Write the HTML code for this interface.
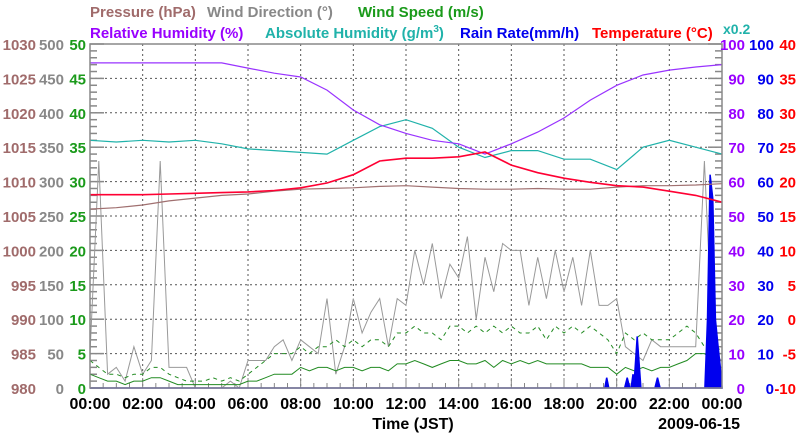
<!DOCTYPE html>
<html><head><meta charset="utf-8"><style>
body{margin:0;background:#fff;}
svg{display:block;font-family:"Liberation Sans",sans-serif;}
</style></head><body>
<svg id="c" width="800" height="434"></svg>
<script>
const hours = [0,2,4,6,8,10,12,14,16,18,20,22,24];
const xTickLabels = ["00:00","02:00","04:00","06:00","08:00","10:00","12:00","14:00","16:00","18:00","20:00","22:00","00:00"];
const pressureTicks = [980,985,990,995,1000,1005,1010,1015,1020,1025,1030];
const windDirTicks = [0,50,100,150,200,250,300,350,400,450,500];
const windSpeedTicks = [0,5,10,15,20,25,30,35,40,45,50];
const rhTicks = [0,10,20,30,40,50,60,70,80,90,100];
const rainTicks = [0,10,20,30,40,50,60,70,80,90,100];
const tempTicks = [-10,-5,0,5,10,15,20,25,30,35,40];
// hourly series (25 points, 00:00..24:00)
const tempValues = [18.1,18.1,18.1,18.2,18.3,18.4,18.5,18.7,19.1,19.8,21.0,23.0,23.4,23.4,23.6,24.3,22.4,21.3,20.5,19.9,19.4,19.2,18.6,18.0,17.0];
const pressureValues = [1006.0,1006.2,1006.6,1007.2,1007.6,1008.0,1008.2,1008.6,1008.9,1009.0,1009.1,1009.3,1009.4,1009.2,1009.0,1008.9,1008.9,1009.0,1008.9,1008.9,1009.2,1009.4,1009.4,1009.5,1009.7];
const rhValues = [94.5,94.5,94.5,94.5,94.5,94.5,93,91.5,90.4,86.6,80.8,76.5,74,72,71,68,71,74.4,78.5,83.7,88,91,92.4,93.3,94];
const ahValues = [14.4,14.3,14.4,14.3,14.4,14.2,13.9,13.8,13.7,13.6,14.4,15.2,15.6,15.1,14.0,13.4,13.8,13.8,13.3,13.3,12.7,14.0,14.4,14.0,13.6];
// 20-minute series (73 points)
const windDirValues = [50,330,20,30,10,60, 20,40,330,30,30,30, 0,0,0,0,10,0, 40,40,40,60,70,40, 70,60,50,130,20,60, 130,80,110,130,60,130, 120,200,150,210,130,180, 160,220,100,190,140,210, 200,200,120,190,130,200, 140,190,120,200,120,120, 130,60,50,40,70,60, 60,60,60,60,330,50, 40];
const windMaxValues = [4,3,2,2,1.5,2, 2,3,3,2,1.5,1, 1,1,1.5,1,1.5,1, 2,3,4,5,5,5, 6,5,6,6,7,6, 7,6,7,7,6,8, 8,9,8,8,7,9, 9,8,9,8,9,8, 9,8,8,9,7,9, 8,9,8,9,8,7, 5,8,7,8,7,7, 7,8,9,8,6,7, 5];
const windMeanValues = [2,1.5,1,1,0.5,1, 1,1.5,1.5,1,0.5,0.5, 0.5,0.5,0.5,0.5,0.5,0.5, 1,1,1.5,2,2,2, 3,2.5,3,3,2.5,3, 3,2.5,3,3,2.5,3.5, 3.5,4,3.5,3,3.5,4, 4,3.5,3.5,4,3,4, 3.5,4,3.5,4,3.5,3.5, 3.5,3.5,3.5,3,3,3, 2,3,2.5,3,2.5,3, 3,3.5,4,5,5,4, 2];
const rainTimes = [19.55,19.62,19.7, 20.3,20.4,20.5, 20.55,20.62,20.7, 20.65,20.78,20.92, 21.45,21.55,21.65, 23.35,23.45,23.55,23.65,23.75,23.85,23.95,24];
const rainValues = [0,3,0, 0,3,0, 0,4,0, 0,15,0, 0,3,0, 0,20,62,55,20,12,5,0];

const L=90,R=722,T=44,B=388;
const NS="http://www.w3.org/2000/svg";
const svg=document.getElementById('c');
function x(h){return L+(R-L)*h/24;}
function yLin(v,min,max){return B-(B-T)*(v-min)/(max-min);}
const yP=v=>yLin(v,980,1030), yD=v=>yLin(v,0,500), yS=v=>yLin(v,0,50), yRH=v=>yLin(v,0,100), yAH=v=>yLin(v*5,0,100), yR=v=>yLin(v,0,100), yT=v=>yLin(v,-10,40);
function el(tag,attrs,parent){const e=document.createElementNS(NS,tag);for(const k in attrs)e.setAttribute(k,attrs[k]);(parent||svg).appendChild(e);return e;}
function txt(s,xx,yy,fill,anchor,size){const t=el('text',{x:xx,y:yy,fill:fill,'text-anchor':anchor||'start','font-size':size||16,'font-weight':'bold'});t.textContent=s;return t;}

// grid
hours.forEach((h,i)=>{if(i>0&&i<hours.length-1){const g=el('line',{x1:x(h),x2:x(h),y1:T,y2:B,stroke:'#555','stroke-dasharray':'2,3','stroke-width':1});

}});
for(let i=1;i<10;i++){const yy=T+(B-T)*i/10;const g=el('line',{x1:L,x2:R,y1:yy,y2:yy,stroke:'#555','stroke-dasharray':'2,3','stroke-width':1});

}
// minor ticks
for(let i=0;i<=50;i++){const yy=T+(B-T)*i/50;const len=i%5==0?14:7;
el('line',{x1:L,x2:L+len,y1:yy,y2:yy,stroke:'#888','stroke-width':1.5});
el('line',{x1:R,x2:R-len,y1:yy,y2:yy,stroke:'#888','stroke-width':1.5});}
for(let i=0;i<=48;i++){const xx=L+(R-L)*i/48;const len=i%4==0?10:5;el('line',{x1:xx,x2:xx,y1:B,y2:B-len,stroke:'#888','stroke-width':1});}

function poly(xs,ys,color,name,w,dash){const pts=xs.map((v,i)=>v.toFixed(1)+','+ys[i].toFixed(1)).join(' ');
const p=el('polyline',{points:pts,fill:'none',stroke:color,'stroke-width':w||1,'stroke-dasharray':dash||'none'});

return p;}
const hx=tempValues.map((_,i)=>x(i));
const mx=windDirValues.map((_,i)=>x(i/3));
poly(mx,windDirValues.map(yD),'#999','wind-direction-line',1);
poly(mx,windMaxValues.map(yS),'#228b22','wind-gust-line',1,'4,4');
poly(mx,windMeanValues.map(yS),'#228b22','wind-speed-line',1);
// rain
const rp=[[x(0),yR(0)]];rainTimes.forEach((t,i)=>rp.push([x(t),yR(rainValues[i])]));rp.push([x(24),yR(0)]);
const rain=el('polygon',{points:rp.map(p=>p[0].toFixed(1)+','+p[1].toFixed(1)).join(' '),fill:'#0000ee',stroke:'#0000ee','stroke-width':1.5});


poly(hx,pressureValues.map(yP),'#a07070','pressure-line',1.2);
poly(hx,ahValues.map(yAH),'#20b2aa','absolute-humidity-line',1.2);
poly(hx,rhValues.map(yRH),'#9933ff','relative-humidity-line',1.2);
poly(hx,tempValues.map(yT),'#ff0033','temperature-line',1.6);

// frame
const fr=el('rect',{x:L,y:T,width:R-L,height:B-T,fill:'none',stroke:'#888','stroke-width':1.5});



// axis labels
const TS=15;
pressureTicks.forEach(v=>{const t=txt(String(v),36,yP(v)+6,'#a06b6b','end',TS);});
windDirTicks.forEach(v=>{const t=txt(String(v),64,yD(v)+6,'#888','end',TS);});
windSpeedTicks.forEach(v=>{const t=txt(String(v),86,yS(v)+6,'#1a9a1a','end',TS);});
rhTicks.forEach(v=>{const t=txt(String(v),745,yRH(v)+6,'#9900ff','end',TS);});
rainTicks.forEach(v=>{const t=txt(String(v),774,yR(v)+6,'#0000ee','end',TS);});
tempTicks.forEach(v=>{const t=txt(String(v),796,yT(v)+6,'#ff0000','end',TS);});
hours.forEach((h,i)=>{const t=txt(xTickLabels[i],x(h),409,'#000','middle',16);});
let t;
t=txt('Time (JST)',413,429,'#000','middle',16);
t=txt('2009-06-15',740,429,'#000','end',16);
// titles
t=txt('Pressure (hPa)',90,17,'#a06b6b',null,15);
t=txt('Wind Direction (°)',207,17,'#888',null,15);
t=txt('Wind Speed (m/s)',358,17,'#1a9a1a',null,15);
t=txt('Relative Humidity (%)',90,38,'#9900ff',null,15);
const ah=txt('Absolute Humidity (g/m',265,38,'#20b2aa',null,15);
const sup=el('tspan',{dy:-6,'font-size':10},ah);sup.textContent='3';const cl=el('tspan',{dy:6},ah);cl.textContent=')';
t=txt('Rain Rate(mm/h)',460,38,'#0000ee',null,15);
t=txt('Temperature (°C)',592,38,'#ff0000',null,15);
t=txt('x0.2',723,34,'#20b2aa','start',14);
</script>
</body></html>
